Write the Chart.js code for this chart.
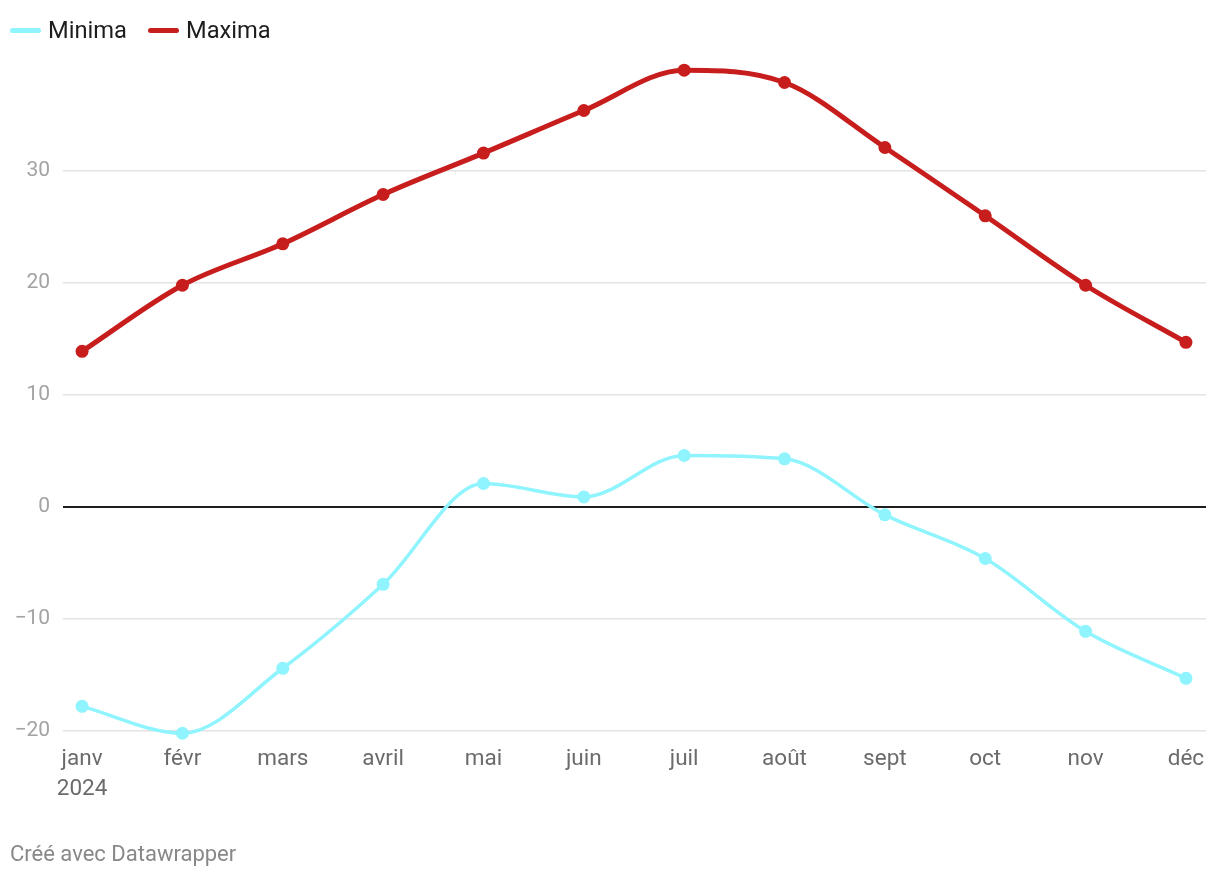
<!DOCTYPE html>
<html lang="fr">
<head>
<meta charset="utf-8">
<title>Minima / Maxima 2024</title>
<script src="https://cdn.jsdelivr.net/npm/chart.js@4.4.1/dist/chart.umd.min.js"></script>
<style>
  html, body { margin: 0; padding: 0; background: #fff; }
  body { width: 1220px; height: 878px; position: relative; overflow: hidden; font-family: Roboto, "Noto Sans", sans-serif; }
  #wrap { position: absolute; left: 0; top: 0; width: 1220px; height: 878px; }
  .legend { position: absolute; left: 10px; top: 16px; display: flex; align-items: center; font-size: 23.7px; color: #1d1d1d; }
  .legend .item { display: flex; align-items: center; margin-right: 21px; }
  .legend .swatch { width: 31px; height: 5px; border-radius: 3px; margin-right: 7px; }
  .footer { position: absolute; left: 10px; top: 841px; font-size: 22px; color: #888; }
</style>
</head>
<body>
<div id="wrap"><canvas id="chart"></canvas></div>
<div class="legend" id="legend"></div>
<div class="footer">Créé avec Datawrapper</div>
<script>
// ===== DATA =====
const months = [['janv', '2024'], 'févr', 'mars', 'avril', 'mai', 'juin', 'juil', 'août', 'sept', 'oct', 'nov', 'déc'];
const minima = [-17.8, -20.2, -14.4, -6.9, 2.1, 0.9, 4.6, 4.3, -0.7, -4.6, -11.1, -15.3];
const maxima = [13.9, 19.8, 23.5, 27.9, 31.6, 35.4, 39.0, 37.9, 32.1, 26.0, 19.8, 14.7];
const yTicks = [-20, -10, 0, 10, 20, 30];

const minColor = '#8ff4fd';
const maxColor = '#c71e1d';

// ===== LEGEND =====
const legend = document.getElementById('legend');
[['Minima', minColor], ['Maxima', maxColor]].forEach(([name, color]) => {
  const item = document.createElement('div');
  item.className = 'item';
  item.innerHTML = `<span class="swatch" style="background:${color}"></span>${name}`;
  legend.appendChild(item);
});

const toPoints = arr => arr.map((v, i) => ({ x: i, y: v }));

// ===== CHART =====
const ctx = document.getElementById('chart').getContext('2d');
new Chart(ctx, {
  type: 'line',
  data: {
    datasets: [
      {
        label: 'Minima',
        data: toPoints(minima),
        borderColor: minColor,
        backgroundColor: minColor,
        borderWidth: 3.5,
        pointRadius: 6.5,
        pointBorderWidth: 0,
        cubicInterpolationMode: 'monotone',
        clip: false
      },
      {
        label: 'Maxima',
        data: toPoints(maxima),
        borderColor: maxColor,
        backgroundColor: maxColor,
        borderWidth: 5,
        pointRadius: 6.5,
        pointBorderWidth: 0,
        cubicInterpolationMode: 'monotone',
        clip: false
      }
    ]
  },
  options: {
    responsive: true,
    maintainAspectRatio: false,
    animation: false,
    layout: { padding: { left: 0, top: 59, right: 14, bottom: 67 } },
    plugins: {
      legend: { display: false },
      tooltip: { enabled: false }
    },
    scales: {
      x: {
        type: 'linear',
        min: -0.19,
        max: 11.2,
        border: { display: false },
        grid: { display: false, drawTicks: false },
        afterBuildTicks: scale => { scale.ticks = months.map((_, i) => ({ value: i })); },
        afterFit: scale => { scale.height = 80; },
        ticks: {
          autoSkip: false,
          maxRotation: 0,
          padding: 13,
          color: '#6b6b6b',
          font: { family: 'Roboto', size: 22.5, lineHeight: 1.35 },
          callback: v => months[v]
        }
      },
      y: {
        min: -20,
        max: 40,
        border: { display: false },
        afterBuildTicks: scale => { scale.ticks = yTicks.map(v => ({ value: v })); },
        afterFit: scale => { scale.width = 63; },
        grid: {
          drawTicks: false,
          color: c => c.tick.value === 0 ? '#1d1d1d' : '#e3e3e3',
          lineWidth: c => c.tick.value === 0 ? 2 : 1.5
        },
        ticks: {
          padding: 13,
          color: '#a3a3a3',
          font: { family: 'Roboto', size: 21 },
          callback: v => String(v).replace('-', '\u2212')
        }
      }
    }
  }
});
</script>
</body>
</html>
